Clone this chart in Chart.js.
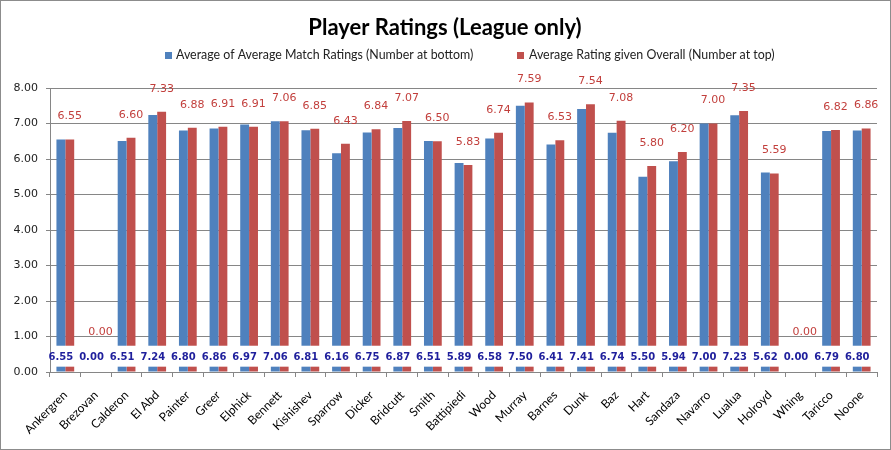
<!DOCTYPE html>
<html>
<head>
<meta charset="utf-8">
<title>Player Ratings (League only)</title>
<script src="https://cdn.jsdelivr.net/npm/chart.js@4.4.0/dist/chart.umd.min.js"></script>
<style>
    html, body { margin: 0; padding: 0; background: #fff; }
    canvas { display: block; background: #fff; }
</style>
</head>
<body>
<canvas id="ratingsChart" width="891" height="450"></canvas>
<script>
// --- Data ---
const players = ['Ankergren', 'Brezovan', 'Calderon', 'El Abd', 'Painter', 'Greer', 'Elphick',
    'Bennett', 'Kishishev', 'Sparrow', 'Dicker', 'Bridcutt', 'Smith', 'Battipiedi', 'Wood',
    'Murray', 'Barnes', 'Dunk', 'Baz', 'Hart', 'Sandaza', 'Navarro', 'Lualua', 'Holroyd',
    'Whing', 'Taricco', 'Noone'];

const matchAverages = [6.55, 0.00, 6.51, 7.24, 6.80, 6.86, 6.97, 7.06, 6.81, 6.16, 6.75, 6.87,
    6.51, 5.89, 6.58, 7.50, 6.41, 7.41, 6.74, 5.50, 5.94, 7.00, 7.23, 5.62, 0.00, 6.79, 6.80];

const overallRatings = [6.55, 0.00, 6.60, 7.33, 6.88, 6.91, 6.91, 7.06, 6.85, 6.43, 6.84, 7.07,
    6.50, 5.83, 6.74, 7.59, 6.53, 7.54, 7.08, 5.80, 6.20, 7.00, 7.35, 5.59, 0.00, 6.82, 6.86];

const seriesNames = ['Average of Average Match Ratings (Number at bottom)',
    'Average Rating given Overall (Number at top)'];

const yMin = 0;
const yMax = 8;
const yStep = 1;

// the white "break" strip where the bottom numbers sit
const breakFrom = 0.15;
const breakTo = 0.74;

const BLUE = '#4f81bd';
const RED = '#c0504d';
const GRID = '#868686';

document.addEventListener('DOMContentLoaded', function() {
    initializeRatingsChart();
});

// --- title + legend drawn in the header band ---
const headerPlugin = {
    id: 'header',
    afterDraw(chart) {
        const ctx = chart.ctx;
        ctx.save();
        ctx.fillStyle = '#000';
        ctx.textAlign = 'center';
        ctx.textBaseline = 'alphabetic';
        ctx.font = 'bold 22px Lato';
        ctx.fillText('Player Ratings (League only)', 445, 35);

        ctx.font = '12.4px Lato';
        ctx.textAlign = 'left';
        ctx.textBaseline = 'middle';
        ctx.fillStyle = BLUE;
        ctx.fillRect(165, 52, 7, 7);
        ctx.fillStyle = RED;
        ctx.fillRect(517, 52, 7, 7);
        ctx.fillStyle = '#222';
        ctx.fillText(seriesNames[0], 176, 55);
        ctx.fillText(seriesNames[1], 529, 55);

        // outer frame
        ctx.strokeStyle = '#8c8c8c';
        ctx.lineWidth = 1;
        ctx.strokeRect(0.5, 0.5, chart.width - 1, chart.height - 1);
        ctx.restore();
    }
};

// --- axis break + value labels ---
const valueLabelPlugin = {
    id: 'valueLabels',
    afterDatasetsDraw(chart) {
        const { ctx, chartArea, scales } = chart;
        const top = scales.y.getPixelForValue(breakTo);
        const bottom = scales.y.getPixelForValue(breakFrom);

        ctx.save();
        ctx.fillStyle = '#fff';
        ctx.fillRect(chartArea.left + 1, top, chartArea.right - chartArea.left - 1, bottom - top);

        ctx.textAlign = 'center';
        ctx.textBaseline = 'middle';

        // bottom numbers (blue series)
        ctx.font = 'bold 10px "DejaVu Sans"';
        ctx.fillStyle = '#1f1f9c';
        chart.getDatasetMeta(0).data.forEach((bar, i) => {
            ctx.fillText(matchAverages[i].toFixed(2), bar.x, (top + bottom) / 2 + 1.5);
        });

        // top numbers (red series)
        ctx.font = '11px "DejaVu Sans"';
        ctx.fillStyle = '#c23f3c';
        chart.getDatasetMeta(1).data.forEach((bar, i) => {
            const ly = Math.min(bar.y - 23, top - 14);
            ctx.fillText(overallRatings[i].toFixed(2), bar.x, ly);
        });
        ctx.restore();
    }
};

function initializeRatingsChart() {
    const ctx = document.getElementById('ratingsChart');
    if (!ctx) return;

    new Chart(ctx, {
        type: 'bar',
        data: {
            labels: players,
            datasets: [{
                label: seriesNames[0],
                data: matchAverages,
                backgroundColor: BLUE,
                borderWidth: 0
            }, {
                label: seriesNames[1],
                data: overallRatings,
                backgroundColor: RED,
                borderWidth: 0
            }]
        },
        options: {
            responsive: false,
            animation: false,
            devicePixelRatio: 1,
            layout: {
                padding: { top: 88, right: 14, bottom: 0, left: 0 }
            },
            datasets: {
                bar: {
                    categoryPercentage: 0.58,
                    barPercentage: 1.0
                }
            },
            scales: {
                x: {
                    grid: {
                        drawOnChartArea: false,
                        color: GRID,
                        tickLength: 5
                    },
                    border: { color: GRID },
                    ticks: {
                        minRotation: 45,
                        maxRotation: 45,
                        autoSkip: false,
                        padding: 11,
                        color: '#000',
                        font: { family: 'Lato', size: 12 }
                    },
                    afterFit: function(scale) {
                        scale.height = 78;
                    }
                },
                y: {
                    min: yMin,
                    max: yMax,
                    grid: {
                        color: GRID,
                        tickLength: 4
                    },
                    border: { color: GRID },
                    ticks: {
                        stepSize: yStep,
                        padding: 8,
                        color: '#222',
                        font: { family: 'DejaVu Sans', size: 11 },
                        callback: function(value) {
                            return value.toFixed(2);
                        }
                    },
                    afterFit: function(scale) {
                        scale.width = 50;
                    }
                }
            },
            plugins: {
                legend: { display: false },
                title: { display: false },
                tooltip: { enabled: false }
            }
        },
        plugins: [valueLabelPlugin, headerPlugin]
    });
}
</script>
</body>
</html>
